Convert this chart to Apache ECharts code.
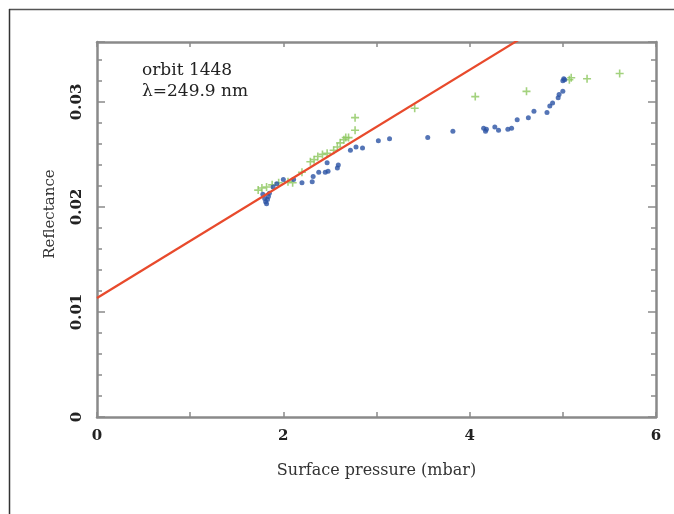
<!DOCTYPE html>
<html><head><meta charset="utf-8">
<script src="https://cdn.jsdelivr.net/npm/echarts@6/dist/echarts.min.js"></script>
<style>html,body{margin:0;padding:0;background:#fff}#c{width:674px;height:514px}</style>
</head><body><div id="c"></div>
<script>
const xTicks = [0, 2, 4, 6];
const yTicks = [0, 0.01, 0.02, 0.03];
const blueX = [1.78,1.80,1.81,1.82,1.83,1.84,1.85,1.89,1.93,2.00,2.11,2.20,2.31,2.32,2.38,2.45,2.48,2.47,2.58,2.59,2.72,2.78,2.85,3.02,3.14,3.55,3.82,4.15,4.17,4.18,4.27,4.31,4.41,4.45,4.51,4.63,4.69,4.83,4.86,4.89,4.95,4.96,5.00,5.00,5.01,5.02];
const blueY = [0.0212,0.0208,0.0205,0.0203,0.0207,0.0210,0.0213,0.0219,0.0222,0.0226,0.0226,0.0223,0.0224,0.0229,0.0233,0.0233,0.0234,0.0242,0.0237,0.0240,0.0254,0.0257,0.0256,0.0263,0.0265,0.0266,0.0272,0.0275,0.0272,0.0274,0.0276,0.0273,0.0274,0.0275,0.0283,0.0285,0.0291,0.0290,0.0296,0.0299,0.0304,0.0307,0.0310,0.0320,0.0322,0.0321];
const greenX = [1.73,1.77,1.82,1.88,1.95,2.05,2.10,2.20,2.29,2.33,2.37,2.42,2.47,2.54,2.58,2.61,2.65,2.67,2.70,2.77,2.77,3.41,4.06,4.61,5.07,5.09,5.26,5.61];
const greenY = [0.0216,0.0218,0.0219,0.0221,0.0223,0.0224,0.0223,0.0233,0.0243,0.0245,0.0248,0.0250,0.0251,0.0254,0.0257,0.0261,0.0264,0.0266,0.0266,0.0273,0.0285,0.0294,0.0305,0.0310,0.0321,0.0323,0.0322,0.0327];
const fitX = [0, 6];
const fitY = [0.01133, 0.04391];

const FONT = '"DejaVu Serif", serif';
const axisCol = '#8a8a8a';
const chart = echarts.init(document.getElementById('c'), null, {renderer: 'canvas'});
const plus = 'path://M4,0 H6 V4 H10 V6 H6 V10 H4 V6 H0 V4 H4 Z';
function xa(pos, show) {
  return {
    type: 'value', min: 0, max: 6, interval: 1, position: pos,
    axisLine: {show: true, onZero: false, lineStyle: {color: axisCol, width: 2.5}},
    axisTick: {show: true, inside: true, length: 5, lineStyle: {color: axisCol, width: 1.5}},
    axisLabel: {show: show, margin: 12, color: '#222', fontFamily: FONT, fontSize: 15, fontWeight: 'bold',
      formatter: v => xTicks.includes(v) ? String(v) : ''},
    splitLine: {show: false},
    name: show ? 'Surface pressure (mbar)' : '', nameLocation: 'middle', nameGap: 46,
    nameTextStyle: {color: '#333', fontFamily: FONT, fontSize: 16}
  };
}
function ya(pos, show) {
  return {
    type: 'value', min: 0, max: 0.0357, interval: 0.01, position: pos,
    axisLine: {show: true, onZero: false, lineStyle: {color: axisCol, width: 2.5}},
    axisTick: {show: true, inside: true, length: 8, lineStyle: {color: axisCol, width: 1.5}},
    minorTick: {show: true, splitNumber: 5, length: 5, lineStyle: {color: axisCol, width: 1.5}},
    axisLabel: {show: show, rotate: 90, margin: 12, color: '#222', fontFamily: FONT, fontSize: 15, fontWeight: 'bold',
      showMaxLabel: false,
      formatter: v => { const t = yTicks.find(k => Math.abs(k - v) < 1e-9); return t === undefined ? '' : String(t); }},
    splitLine: {show: false}, minorSplitLine: {show: false}
  };
}
chart.setOption({
  animation: false,
  backgroundColor: '#fff',
  grid: {left: 97, right: 18, top: 42, bottom: 97, containLabel: false},
  xAxis: [xa('bottom', true), xa('top', false)],
  yAxis: [ya('left', true), ya('right', false)],
  graphic: [
    {type: 'line', shape: {x1: 9, y1: 9.5, x2: 674, y2: 9.5}, style: {stroke: '#555', lineWidth: 1.5}},
    {type: 'line', shape: {x1: 9.5, y1: 9, x2: 9.5, y2: 514}, style: {stroke: '#333', lineWidth: 1.5}},
    {type: 'text', left: 142, top: 62, style: {text: 'orbit 1448', fill: '#222', font: '17px "DejaVu Serif", serif'}},
    {type: 'text', left: 142, top: 83, style: {text: 'λ=249.9 nm', fill: '#222', font: '17px "DejaVu Serif", serif'}},
    {type: 'text', x: 50, y: 214, rotation: Math.PI / 2,
      style: {text: 'Reflectance', fill: '#333', font: '15px "DejaVu Serif", serif', align: 'center', verticalAlign: 'middle'}}
  ],
  series: [
    {type: 'scatter', name: 'green', data: greenX.map((x, i) => [x, greenY[i]]),
      symbol: plus, symbolSize: 8, itemStyle: {color: '#8cc75e'}, z: 2},
    {type: 'scatter', name: 'blue', data: blueX.map((x, i) => [x, blueY[i]]),
      symbol: 'circle', symbolSize: 5, itemStyle: {color: '#2b52a4'}, z: 3},
    {type: 'line', name: 'fit', data: fitX.map((x, i) => [x, fitY[i]]), clip: true,
      symbol: 'none', lineStyle: {color: '#e84a2c', width: 2.2}, z: 4}
  ]
});
</script></body></html>
